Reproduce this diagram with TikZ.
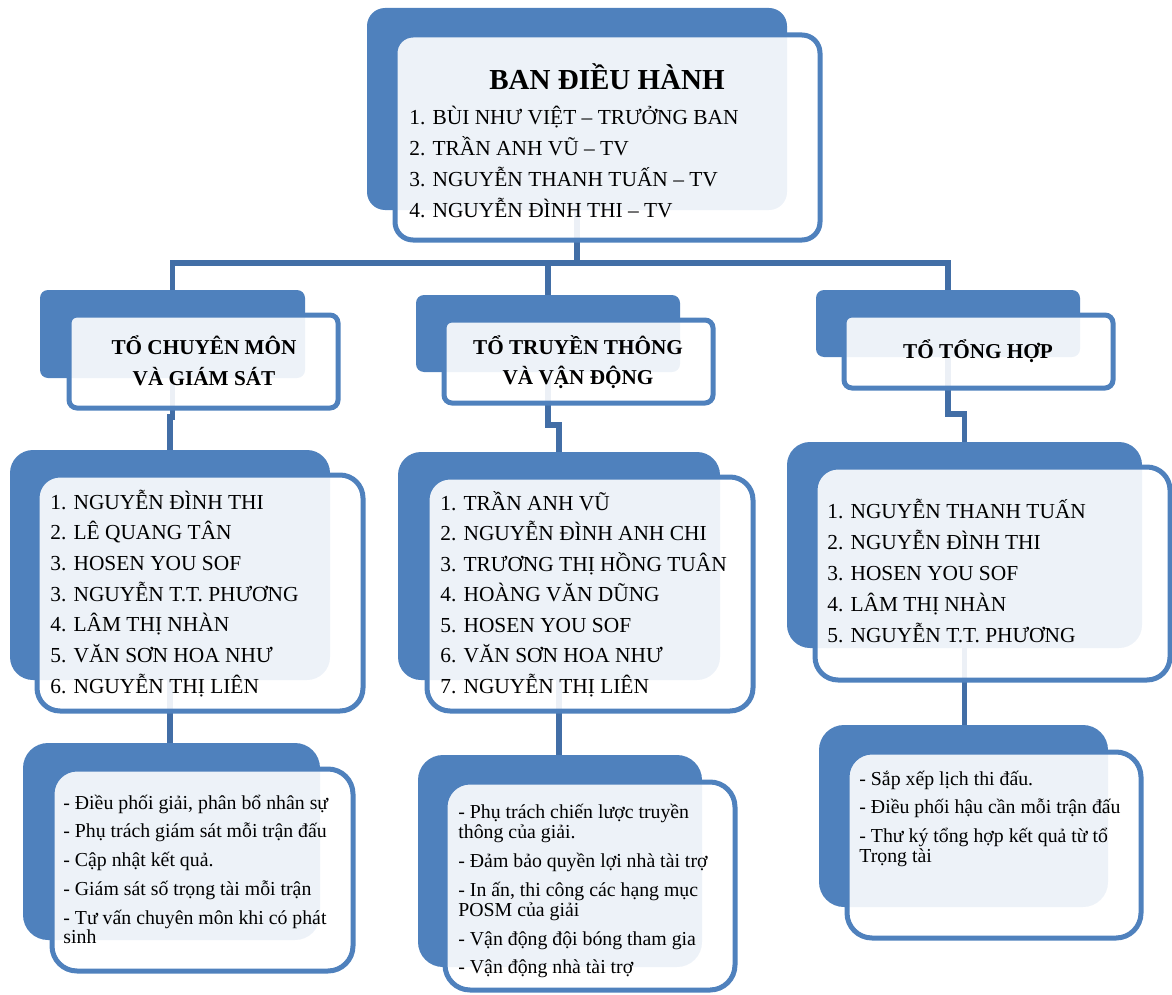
\documentclass[tikz,border=0pt]{standalone}
\usepackage{fontspec}
\setmainfont{Liberation Serif}
\usepackage{xcolor}
\usepackage{tikz}
\usetikzlibrary{positioning, calc, fit}
\definecolor{cardblue}{HTML}{4F81BD}
\definecolor{linkblue}{HTML}{426EA6}

\tikzset{
  backbox/.style={fill=cardblue, draw=none, inner sep=0pt},
  frontbox/.style={draw=cardblue, line width=2.5pt, fill=white, fill opacity=0.9, inner sep=0pt},
  link/.style={draw=linkblue, line width=2.75pt},
  headtext/.style={inner sep=0pt, anchor=base, font=\bfseries\fontsize{14.5}{16}\selectfont},
  teamtext/.style={inner sep=0pt, anchor=base, font=\bfseries\fontsize{10.6}{12}\selectfont},
  nametext/.style={inner sep=0pt, anchor=base west, font=\fontsize{10.7}{12}\selectfont},
  dutytext/.style={inner sep=0pt, anchor=base west, font=\fontsize{9.9}{11}\selectfont}
}

\begin{document}
\begin{tikzpicture}[x=0.5pt, y=-0.5pt]
    \useasboundingbox (0,0) rectangle (1172,995);
    % Back cards (solid blue)
    \node[backbox, rounded corners=9pt, fit={(367,8) (787,210)}] (topB) {};
    \node[backbox, rounded corners=4pt, fit={(40,290) (305,378)}] (ltB) {};
    \node[backbox, rounded corners=4pt, fit={(416,295) (680,372)}] (mtB) {};
    \node[backbox, rounded corners=4pt, fit={(816,290) (1080,357)}] (rtB) {};
    \node[backbox, rounded corners=11.5pt, fit={(10,450) (330,680)}] (llB) {};
    \node[backbox, rounded corners=11.5pt, fit={(398,452) (720,680)}] (mlB) {};
    \node[backbox, rounded corners=11.5pt, fit={(787,442) (1142,648)}] (rlB) {};
    \node[backbox, rounded corners=12.5pt, fit={(23,743) (320,940)}] (lbB) {};
    \node[backbox, rounded corners=12.5pt, fit={(418,755) (702,967)}] (mbB) {};
    \node[backbox, rounded corners=12.5pt, fit={(819,725) (1108,907)}] (rbB) {};

    % Connectors, drawn under the front cards
    \foreach \t in {ltB, mtB, rtB}
      \draw[link] (topB.south) -- (topB.south |- 0,263) -| (\t.north);
    \draw[link] (ltB.south) -- (ltB.south |- 0,417) -| (llB.north);
    \draw[link] (mtB.south) -- (mtB.south |- 0,425) -| (mlB.north);
    \draw[link] (rtB.south) -- (rtB.south |- 0,414) -| (rlB.north);
    \draw[link] (llB.south) -- (llB.south |- lbB.north);
    \draw[link] (mlB.south) -- (mlB.south |- mbB.north);
    \draw[link] (rlB.south) -- (rlB.south |- rbB.north);

    % Front cards (white, blue border)
    \node[frontbox, rounded corners=9pt, fit={(395,35) (820,240)}] (topF) {};
    \node[frontbox, rounded corners=4pt, fit={(69,315) (338,408)}] (ltF) {};
    \node[frontbox, rounded corners=4pt, fit={(444,320) (713,403)}] (mtF) {};
    \node[frontbox, rounded corners=4pt, fit={(844,315) (1113,388)}] (rtF) {};
    \node[frontbox, rounded corners=11.5pt, fit={(37,475) (363,711)}] (llF) {};
    \node[frontbox, rounded corners=11.5pt, fit={(427,477) (753,711)}] (mlF) {};
    \node[frontbox, rounded corners=11.5pt, fit={(815,467) (1170,680)}] (rlF) {};
    \node[frontbox, rounded corners=12.5pt, fit={(52,769) (353,971)}] (lbF) {};
    \node[frontbox, rounded corners=12.5pt, fit={(445,782) (735,990)}] (mbF) {};
    \node[frontbox, rounded corners=12.5pt, fit={(847,752) (1141,938)}] (rbF) {};

    % Board
    \node[headtext] (board) at (607,90) {BAN ĐIỀU HÀNH};
    \foreach \t [count=\i] in {1. BÙI NHƯ VIỆT – TRƯỞNG BAN, 2. TRẦN ANH VŨ – TV,
        3. NGUYỄN THANH TUẤN – TV, 4. NGUYỄN ĐÌNH THI – TV}
      \node[nametext] (bn\i) at (409,{125+30.7*(\i-1)}) {\t};

    % Team titles
    \node[teamtext] (lt1) at (204,354) {TỔ CHUYÊN MÔN};
    \node[teamtext] (lt2) at (204,385) {VÀ GIÁM SÁT};
    \node[teamtext] (mt1) at (578,354) {TỔ TRUYỀN THÔNG};
    \node[teamtext] (mt2) at (578,384) {VÀ VẬN ĐỘNG};
    \node[teamtext] (rt1) at (978,358) {TỔ TỔNG HỢP};

    % Members
    \foreach \t [count=\i] in {1. NGUYỄN ĐÌNH THI, 2. LÊ QUANG TÂN, 3. HOSEN YOU SOF,
        3. NGUYỄN T.T. PHƯƠNG, 4. LÂM THỊ NHÀN, 5. VĂN SƠN HOA NHƯ, 6. NGUYỄN THỊ LIÊN}
      \node[nametext] (ln\i) at (50,{509+30.7*(\i-1)}) {\t};
    \foreach \t [count=\i] in {1. TRẦN ANH VŨ, 2. NGUYỄN ĐÌNH ANH CHI, 3. TRƯƠNG THỊ HỒNG TUÂN,
        4. HOÀNG VĂN DŨNG, 5. HOSEN YOU SOF, 6. VĂN SƠN HOA NHƯ, 7. NGUYỄN THỊ LIÊN}
      \node[nametext] (mn\i) at (440,{510+30.5*(\i-1)}) {\t};
    \foreach \t [count=\i] in {1. NGUYỄN THANH TUẤN, 2. NGUYỄN ĐÌNH THI, 3. HOSEN YOU SOF,
        4. LÂM THỊ NHÀN, 5. NGUYỄN T.T. PHƯƠNG}
      \node[nametext] (rn\i) at (827,{518+31*(\i-1)}) {\t};

    % Duties
    \foreach \y/\t [count=\i] in {809/{- Điều phối giải, phân bổ nhân sự},
        837/{- Phụ trách giám sát mỗi trận đấu}, 866/{- Cập nhật kết quả.},
        895/{- Giám sát số trọng tài mỗi trận}, 924/{- Tư vấn chuyên môn khi có phát},
        943/{sinh}}
      \node[dutytext] (ld\i) at (63,\y) {\t};
    \foreach \y/\t [count=\i] in {818/{- Phụ trách chiến lược truyền},
        838/{thông của giải.}, 867/{- Đảm bảo quyền lợi nhà tài trợ},
        896/{- In ấn, thi công các hạng mục}, 916/{POSM của giải},
        945/{- Vận động đội bóng tham gia}, 973/{- Vận động nhà tài trợ}}
      \node[dutytext] (md\i) at (458,\y) {\t};
    \foreach \y/\t [count=\i] in {785/{- Sắp xếp lịch thi đấu.},
        813/{- Điều phối hậu cần mỗi trận đấu},
        842/{- Thư ký tổng hợp kết quả từ tổ}, 862/{Trọng tài}}
      \node[dutytext] (rd\i) at (859,\y) {\t};
  \end{tikzpicture}
\end{document}
